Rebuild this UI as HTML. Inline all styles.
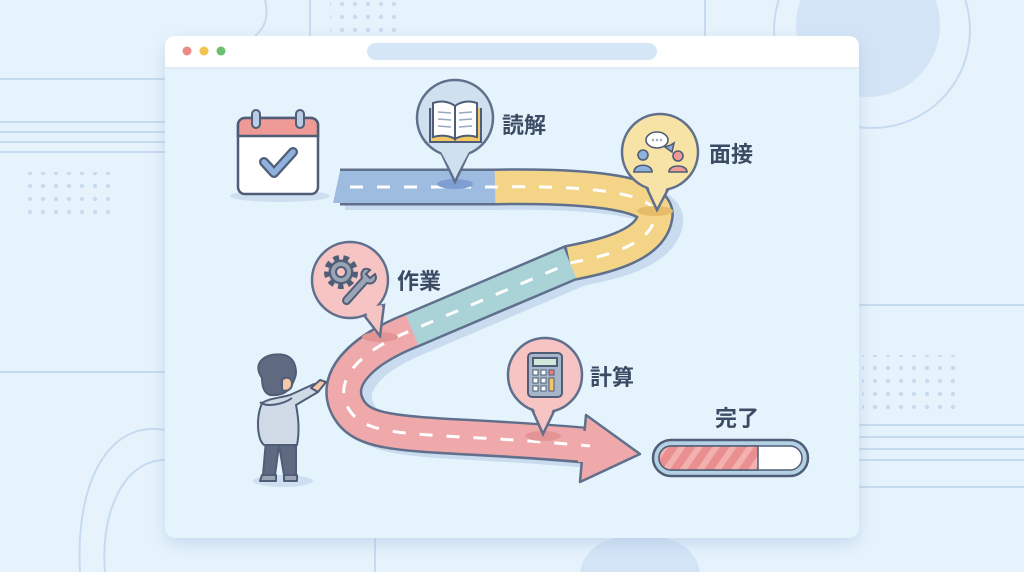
<!DOCTYPE html>
<html><head><meta charset="utf-8"><style>
html,body{margin:0;padding:0;background:#e6f3fc;width:1024px;height:572px;overflow:hidden;}
svg{display:block;width:1024px;height:572px;position:absolute;left:0;top:0}
text{font-family:"Liberation Sans","Noto Sans CJK JP",sans-serif;font-weight:bold;fill:#3d4a63}
</style></head><body>
<svg width="1024" height="572" viewBox="0 0 1024 572" xmlns="http://www.w3.org/2000/svg">
<defs>
<pattern id="dots" width="13" height="13" patternUnits="userSpaceOnUse"><circle cx="4" cy="4" r="2.2" fill="#c7dbef"/></pattern>
<pattern id="stripe" width="14" height="14" patternUnits="userSpaceOnUse" patternTransform="rotate(35)"><rect width="14" height="14" fill="#ea8f8f"/><rect width="6" height="14" fill="#f2b0ae"/></pattern>
<filter id="sh" x="-10%" y="-10%" width="120%" height="115%"><feDropShadow dx="0" dy="6" stdDeviation="8" flood-color="#9fbadb" flood-opacity="0.45"/></filter>
</defs>
<rect width="1024" height="572" fill="#e6f3fc"/>
<circle cx="868" cy="25" r="72" fill="#d3e4f6"/>
<circle cx="872" cy="30" r="98" fill="none" stroke="#c6daf0" stroke-width="2"/>
<path d="M265 0 C270 20 262 30 255 36" fill="none" stroke="#c6daf0" stroke-width="2"/>
<line x1="310" y1="0" x2="310" y2="36" stroke="#c6daf0" stroke-width="2"/>
<line x1="705" y1="0" x2="705" y2="36" stroke="#c6daf0" stroke-width="2"/>
<rect x="330" y="2" width="75" height="32" fill="url(#dots)"/>
<g stroke="#c6daf0" stroke-width="2">
<line x1="0" y1="79" x2="165" y2="79"/><line x1="0" y1="122" x2="165" y2="122"/><line x1="0" y1="132" x2="165" y2="132"/><line x1="0" y1="142" x2="165" y2="142"/><line x1="0" y1="152" x2="165" y2="152"/>
<line x1="0" y1="372" x2="165" y2="372"/>
<line x1="858" y1="305" x2="1024" y2="305"/><line x1="858" y1="425" x2="1024" y2="425"/><line x1="858" y1="437" x2="1024" y2="437"/><line x1="858" y1="449" x2="1024" y2="449"/><line x1="858" y1="460" x2="1024" y2="460"/><line x1="858" y1="487" x2="1024" y2="487"/>
</g>
<rect x="20" y="172" width="90" height="50" fill="url(#dots)"/>
<rect x="862" y="355" width="100" height="62" fill="url(#dots)"/>
<path d="M165 430 C110 420 75 480 80 572" fill="none" stroke="#c6daf0" stroke-width="2"/>
<path d="M165 460 C125 460 100 510 105 572" fill="none" stroke="#c6daf0" stroke-width="2"/>
<path d="M580 572 C585 545 610 535 640 535 C670 535 695 545 700 572Z" fill="#d3e4f6"/>
<line x1="375" y1="538" x2="375" y2="572" stroke="#c6daf0" stroke-width="2"/>
<rect x="165" y="36" width="694" height="502" rx="10" fill="#e5f3fd" filter="url(#sh)"/>
<path d="M175 36 H849 A10 10 0 0 1 859 46 V68 H165 V46 A10 10 0 0 1 175 36Z" fill="#fff"/>
<line x1="165" y1="68" x2="859" y2="68" stroke="#dbe8f4" stroke-width="1.5"/>
<circle cx="187" cy="51" r="4.5" fill="#ec8a86"/><circle cx="204" cy="51" r="4.5" fill="#f2c350"/><circle cx="221" cy="51" r="4.5" fill="#6cc070"/>
<rect x="367" y="43" width="290" height="17" rx="8.5" fill="#d5e6f7"/>
<ellipse cx="280" cy="196" rx="50" ry="6" fill="#cddff0"/>
<rect x="238" y="118" width="80" height="76" rx="7" fill="#fff" stroke="#4f5d77" stroke-width="2.5"/>
<path d="M238 136 V125 A7 7 0 0 1 245 118 H311 A7 7 0 0 1 318 125 V136Z" fill="#ee9a97" stroke="#4f5d77" stroke-width="2.5"/>
<rect x="252" y="110" width="8" height="18" rx="4" fill="#b8cde3" stroke="#4f5d77" stroke-width="2"/>
<rect x="296" y="110" width="8" height="18" rx="4" fill="#b8cde3" stroke="#4f5d77" stroke-width="2"/>
<path d="M264 162 L274 173 L293 152" fill="none" stroke="#4f5d77" stroke-width="10" stroke-linecap="round" stroke-linejoin="round"/>
<path d="M264 162 L274 173 L293 152" fill="none" stroke="#8fb1dd" stroke-width="5.5" stroke-linecap="round" stroke-linejoin="round"/>
<path d="M345 192 L495 192 C600 190 670 200 665 222 C660 252 610 262 580 268 L420 336 C370 356 340 386 360 416 C380 446 440 436 600 451" fill="none" stroke="#c9dbee" stroke-width="36"/>
<g fill="none" stroke-linecap="butt">
<path d="M340 187 L495 187 C600 185 660 195 655 217 C650 247 600 257 570 263 L410 331 C360 351 330 381 350 411 C370 441 430 431 595 446" stroke="#5f6f8c" stroke-width="37"/>
<path d="M342 187 L498 187" stroke="#9ebbe0" stroke-width="32"/>
<path d="M495 187 C600 185 660 195 655 217 C650 247 600 257 570 263" stroke="#f4d587" stroke-width="32"/>
<path d="M570 263 L410 331" stroke="#a9d3d6" stroke-width="32"/>
<path d="M412 330 C360 351 330 381 350 411 C370 441 430 431 597 446" stroke="#efa9aa" stroke-width="32"/>
</g>
<polygon points="340,171 350,171 350,203 333,203" fill="#9ebbe0"/>
<polygon points="586,415 640,454 580,482" fill="#efa9aa" stroke="#5f6f8c" stroke-width="2.5" stroke-linejoin="round"/>
<rect x="578" y="431" width="16" height="31" fill="#efa9aa"/>
<path d="M350 187 L495 187 C600 185 660 195 655 217 C650 247 600 257 570 263 L410 331 C360 351 330 381 350 411 C370 441 430 431 590 446" fill="none" stroke="#fff" stroke-width="3" stroke-dasharray="13 14"/>
<g stroke="#5f6f8c" stroke-width="2.5">
<ellipse cx="455" cy="184" rx="18" ry="5" fill="#7f9fd2" stroke="none"/>
<path d="M440 150 L455 182 L470 150Z" fill="#cfe0ee"/>
<circle cx="455" cy="118" r="38" fill="#cfe0ee"/>
<ellipse cx="655" cy="211" rx="18" ry="5" fill="#e6bc6b" stroke="none"/>
<path d="M644 182 L657 210 L672 182Z" fill="#f8e3a6"/>
<circle cx="660" cy="152" r="38" fill="#f8e3a6"/>
<ellipse cx="380" cy="337" rx="18" ry="5" fill="#e49495" stroke="none"/>
<path d="M360 310 L380 336 L384 305Z" fill="#f5c4c3"/>
<circle cx="350" cy="280" r="38" fill="#f5c4c3"/>
<ellipse cx="543" cy="436" rx="18" ry="5" fill="#e49495" stroke="none"/>
<path d="M530 405 L543 434 L557 405Z" fill="#f5c4c3"/>
<circle cx="545" cy="375" r="37" fill="#f5c4c3"/>
</g>
<g stroke="none"><path d="M440 150 L470 150 L455 178Z" fill="#cfe0ee"/><path d="M646 182 L670 182 L657 206Z" fill="#f8e3a6"/><path d="M362 308 L382 305 L379 330Z" fill="#f5c4c3"/><path d="M532 405 L555 405 L543 430Z" fill="#f5c4c3"/></g>
<g stroke="#4f5d77" stroke-width="2">
<path d="M430 108 V142 H481 V108" fill="#f3c763"/>
<path d="M433 103 C442 100 450 102 455 106 V139 C449 135 440 135 433 137Z" fill="#fff"/>
<path d="M477 103 C468 100 460 102 455 106 V139 C461 135 470 135 477 137Z" fill="#fff"/>
</g>
<g stroke="#9aa8bf" stroke-width="1.5"><line x1="438" y1="112" x2="451" y2="113"/><line x1="438" y1="119" x2="451" y2="120"/><line x1="438" y1="126" x2="451" y2="127"/><line x1="459" y1="113" x2="472" y2="112"/><line x1="459" y1="120" x2="472" y2="119"/><line x1="459" y1="127" x2="472" y2="126"/></g>
<g stroke="#4f5d77" stroke-width="1.6">
<ellipse cx="657" cy="140" rx="11" ry="8" fill="#fff"/>
<path d="M665 147 L672 152 L674 143 C670 146 668 146 665 147Z" fill="#8fb1dd"/>
<circle cx="643" cy="155" r="5" fill="#8fb1dd"/><path d="M634 172 C634 163 652 163 652 172Z" fill="#8fb1dd"/>
<circle cx="678" cy="156" r="5" fill="#ee9a97"/><path d="M669 172 C669 164 687 164 687 172Z" fill="#ee9a97"/>
</g>
<g fill="#9aa8bf"><circle cx="653" cy="140" r="1.2"/><circle cx="657" cy="140" r="1.2"/><circle cx="661" cy="140" r="1.2"/></g>
<g stroke="#4f5d77" stroke-width="2" fill="#9aa4b5">
<circle cx="341" cy="272" r="13" stroke-dasharray="5 4" stroke-width="8"/>
<circle cx="341" cy="272" r="11"/>
<circle cx="341" cy="272" r="5" fill="#f5c4c3"/>
<path d="M370 270 C364 266 360 272 362 278 L344 298 C341 302 346 306 349 303 L367 283 C373 285 378 280 375 274 L370 278 L366 274Z"/>
</g>
<g stroke="#4f5d77" stroke-width="2">
<rect x="528" y="353" width="34" height="44" rx="4" fill="#a7b5c8"/>
<rect x="533" y="358" width="24" height="8" fill="#cfe8d9"/>
</g>
<g fill="#fff" stroke="#4f5d77" stroke-width="1"><rect x="533" y="370" width="5" height="5"/><rect x="541" y="370" width="5" height="5"/><rect x="533" y="378" width="5" height="5"/><rect x="541" y="378" width="5" height="5"/><rect x="533" y="386" width="5" height="5"/><rect x="541" y="386" width="5" height="5"/><rect x="549" y="370" width="5" height="5" fill="#ee7f7f"/><rect x="549" y="378" width="5" height="13" fill="#f3c763"/></g>
<text x="502" y="133" font-size="22">読解</text>
<text x="709" y="162" font-size="22">面接</text>
<text x="397" y="289" font-size="22">作業</text>
<text x="590" y="385" font-size="22">計算</text>
<text x="715" y="426" font-size="22">完了</text>
<rect x="653" y="440" width="155" height="36" rx="18" fill="#b4d1e3" stroke="#4f5d77" stroke-width="2.5"/>
<rect x="659" y="446" width="143" height="24" rx="12" fill="#fff" stroke="#4f5d77" stroke-width="1.5"/>
<path d="M671 446 H758 V470 H671 A12 12 0 0 1 671 446Z" fill="url(#stripe)" stroke="#4f5d77" stroke-width="1.5"/>
<ellipse cx="283" cy="481" rx="30" ry="6" fill="#cddff0"/>
<g stroke="#4f5d77" stroke-width="2" stroke-linejoin="round">
<path d="M266 440 L263 475 H275 L279 445 L284 475 H296 L296 440Z" fill="#5f6a80"/>
<path d="M262 403 C255 420 258 440 264 445 H297 C300 430 298 415 296 405 L318 392 L314 384 L290 395 C280 398 270 398 262 403Z" fill="#cfdae6"/>
<path d="M311 388 L320 380 L326 382 L318 392Z" fill="#f6c7a6"/>
<path d="M260 402 C266 408 284 404 292 398" fill="none"/>
<path d="M262 378 C250 360 270 352 284 355 C296 358 298 372 294 380 C290 392 282 396 270 395 C264 393 262 386 262 378Z" fill="#5f6a80"/>
<path d="M282 380 C286 376 292 377 292 384 C292 390 286 392 282 390Z" fill="#f6c7a6"/>
<path d="M262 475 H276 V481 H260Z M284 475 H297 V481 H284Z" fill="#9aa4b5"/>
</g>
</svg>
</body></html>
